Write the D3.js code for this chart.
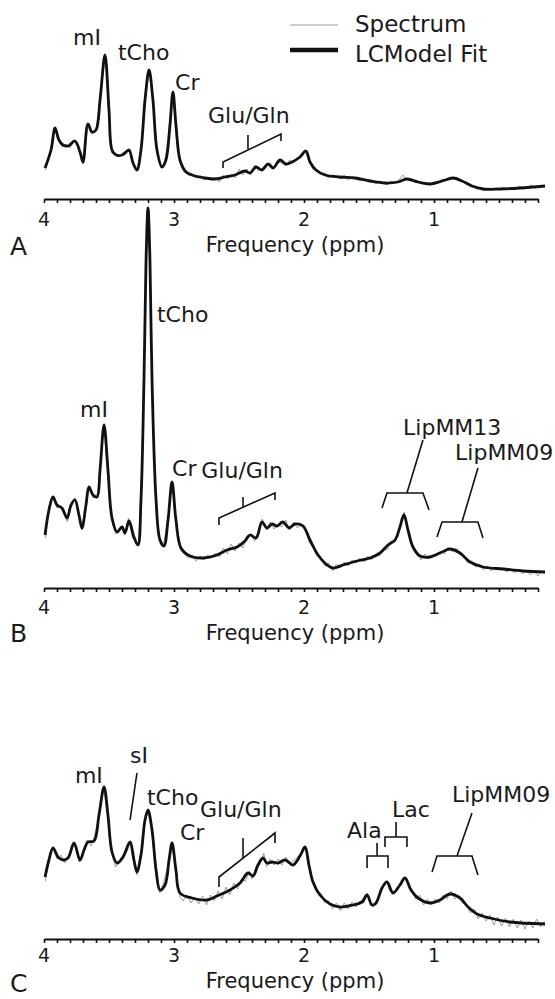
<!DOCTYPE html>
<html><head><meta charset="utf-8">
<script src="https://cdn.jsdelivr.net/npm/d3@7"></script>
<style>
body{margin:0;background:#fff}
svg{display:block}
text{font-family:"DejaVu Sans",sans-serif;fill:#1a1a1a}
</style>
</head><body>
<svg id="chart" width="555" height="999"></svg>
<script>
// ---------- DATA (ppm, intensity a.u.) ----------
const panelLetters = ["A", "B", "C"];
const tickLabels = [4, 3, 2, 1];
const tickValues = [4.0,3.9,3.8,3.7,3.6,3.5,3.4,3.3,3.2,3.1,3.0,2.9,2.8,2.7,2.6,2.5,2.4,2.3,2.2,2.1,2.0,1.9,1.8,1.7,1.6,1.5,1.4,1.3,1.2,1.1,1.0,0.9,0.8,0.7,0.6,0.5,0.4,0.3,0.2];
const axisTitle = "Frequency (ppm)";
const legendLabels = ["Spectrum", "LCModel Fit"];

const fitA = [[3.992,31],[3.946,49],[3.915,71],[3.885,59],[3.854,54],[3.815,53],[3.762,58],[3.723,47],[3.700,37],[3.662,75],[3.631,67],[3.600,69],[3.569,99],[3.531,144],[3.500,89],[3.477,49],[3.446,44],[3.400,44],[3.369,47],[3.346,49],[3.315,36],[3.285,29],[3.254,49],[3.223,99],[3.192,129],[3.162,99],[3.131,49],[3.092,32],[3.062,39],[3.031,74],[3.008,107],[2.985,74],[2.954,39],[2.908,27],[2.838,23],[2.762,21],[2.685,20],[2.608,22],[2.531,24],[2.454,28],[2.415,26],[2.369,32],[2.323,29],[2.277,35],[2.238,31],[2.185,39],[2.138,35],[2.092,37],[2.031,42],[1.985,48],[1.954,37],[1.908,29],[1.838,24],[1.723,22],[1.608,21],[1.492,18],[1.377,16],[1.277,17],[1.208,20],[1.123,17],[1.031,15],[0.938,18],[0.854,21],[0.785,18],[0.708,13],[0.623,10],[0.492,10],[0.338,11],[0.146,13]];
const specA = [[3.99,29],[3.96,42],[3.93,63],[3.915,70],[3.89,60],[3.86,52],[3.83,55],[3.80,51],[3.77,58],[3.74,52],[3.72,44],[3.70,35],[3.68,55],[3.66,76],[3.63,65],[3.60,70],[3.57,97],[3.53,143],[3.50,90],[3.48,46],[3.45,46],[3.42,42],[3.39,46],[3.36,47],[3.34,50],[3.31,34],[3.285,30],[3.25,50],[3.22,100],[3.19,128],[3.16,98],[3.13,48],[3.10,31],[3.07,38],[3.04,66],[3.01,106],[2.985,73],[2.95,37],[2.92,29],[2.89,24],[2.86,25],[2.83,21],[2.80,24],[2.77,19],[2.74,22],[2.71,18],[2.68,22],[2.65,17],[2.62,24],[2.59,20],[2.56,25],[2.53,21],[2.50,30],[2.47,24],[2.44,30],[2.41,24],[2.38,34],[2.35,28],[2.32,31],[2.29,33],[2.26,36],[2.23,30],[2.20,37],[2.17,36],[2.14,33],[2.11,39],[2.08,36],[2.05,41],[2.02,44],[1.99,47],[1.96,38],[1.93,30],[1.90,28],[1.87,25],[1.84,26],[1.81,21],[1.78,24],[1.75,22],[1.72,20],[1.69,24],[1.66,19],[1.63,22],[1.60,20],[1.57,18],[1.54,21],[1.51,17],[1.48,19],[1.45,15],[1.42,18],[1.39,16],[1.36,14],[1.33,18],[1.30,16],[1.27,19],[1.24,24],[1.21,19],[1.18,21],[1.15,17],[1.12,18],[1.09,15],[1.06,17],[1.03,14],[1.00,17],[0.97,16],[0.94,20],[0.91,18],[0.88,22],[0.85,20],[0.82,22],[0.79,18],[0.76,17],[0.73,14],[0.70,13],[0.67,10],[0.64,12],[0.61,9],[0.58,11],[0.55,9],[0.52,11],[0.49,10],[0.46,12],[0.43,9],[0.40,11],[0.37,10],[0.34,13],[0.31,10],[0.28,12],[0.25,14],[0.22,11],[0.19,13],[0.16,12]];

const fitB = [[3.992,53],[3.962,78],[3.931,91],[3.900,83],[3.862,80],[3.823,70],[3.792,83],[3.762,88],[3.731,73],[3.708,60],[3.677,83],[3.654,101],[3.623,93],[3.592,91],[3.569,118],[3.538,163],[3.508,118],[3.477,70],[3.438,56],[3.400,61],[3.377,55],[3.346,67],[3.308,51],[3.277,43],[3.254,88],[3.231,208],[3.215,328],[3.200,380],[3.185,328],[3.169,208],[3.138,88],[3.108,48],[3.077,42],[3.046,68],[3.015,106],[2.985,68],[2.946,40],[2.877,32],[2.777,30],[2.669,33],[2.592,38],[2.515,41],[2.454,47],[2.415,53],[2.369,50],[2.323,66],[2.285,60],[2.246,64],[2.208,62],[2.162,66],[2.115,60],[2.069,64],[2.008,62],[1.954,48],[1.892,33],[1.831,24],[1.777,20],[1.700,23],[1.592,27],[1.492,30],[1.415,35],[1.354,43],[1.300,48],[1.262,61],[1.231,73],[1.200,58],[1.162,41],[1.108,32],[1.031,31],[0.954,35],[0.877,39],[0.800,35],[0.723,26],[0.623,21],[0.469,19],[0.315,17],[0.146,16]];
const specB = [[3.99,50],[3.96,80],[3.93,92],[3.90,80],[3.87,82],[3.84,74],[3.82,66],[3.79,84],[3.76,90],[3.73,70],[3.71,58],[3.68,80],[3.655,100],[3.62,90],[3.59,94],[3.57,116],[3.54,162],[3.51,116],[3.48,68],[3.45,54],[3.42,60],[3.40,62],[3.38,53],[3.35,70],[3.32,50],[3.29,46],[3.275,42],[3.255,90],[3.23,210],[3.215,325],[3.2,378],[3.185,325],[3.17,205],[3.14,90],[3.11,46],[3.08,44],[3.05,66],[3.015,104],[2.985,66],[2.95,38],[2.92,34],[2.89,30],[2.86,33],[2.83,27],[2.80,32],[2.77,28],[2.74,33],[2.71,30],[2.68,35],[2.65,31],[2.62,40],[2.59,34],[2.56,44],[2.53,37],[2.50,45],[2.47,40],[2.44,52],[2.41,54],[2.38,47],[2.35,56],[2.32,69],[2.29,58],[2.26,66],[2.23,59],[2.20,64],[2.17,61],[2.14,68],[2.11,58],[2.08,66],[2.05,60],[2.02,64],[1.99,58],[1.96,46],[1.93,40],[1.90,32],[1.87,30],[1.84,22],[1.81,25],[1.78,17],[1.75,24],[1.72,20],[1.69,26],[1.66,22],[1.63,28],[1.60,25],[1.57,30],[1.54,26],[1.51,32],[1.48,28],[1.45,33],[1.42,32],[1.39,40],[1.36,38],[1.33,47],[1.30,46],[1.27,58],[1.25,70],[1.23,76],[1.21,62],[1.19,55],[1.16,42],[1.13,36],[1.10,28],[1.07,34],[1.04,29],[1.01,33],[0.98,32],[0.95,37],[0.92,34],[0.89,41],[0.86,36],[0.83,40],[0.80,33],[0.77,32],[0.74,25],[0.71,27],[0.68,21],[0.65,24],[0.62,18],[0.59,22],[0.56,17],[0.53,21],[0.50,18],[0.47,20],[0.44,16],[0.41,19],[0.38,15],[0.35,19],[0.32,14],[0.29,18],[0.26,13],[0.23,17],[0.20,12],[0.17,17],[0.15,15]];

const fitC = [[3.992,62],[3.962,79],[3.931,91],[3.892,82],[3.854,79],[3.815,81],[3.769,96],[3.723,79],[3.692,89],[3.662,97],[3.615,98],[3.577,124],[3.538,152],[3.508,124],[3.477,87],[3.438,76],[3.392,82],[3.338,97],[3.308,79],[3.285,67],[3.254,84],[3.223,119],[3.200,129],[3.169,109],[3.138,69],[3.108,49],[3.069,54],[3.038,79],[3.015,96],[2.985,69],[2.954,46],[2.862,41],[2.746,39],[2.669,43],[2.569,49],[2.492,56],[2.431,66],[2.392,63],[2.354,74],[2.315,81],[2.285,76],[2.246,77],[2.200,76],[2.146,79],[2.085,74],[2.031,83],[1.992,92],[1.962,74],[1.931,57],[1.877,44],[1.800,35],[1.723,32],[1.623,34],[1.554,37],[1.515,44],[1.477,34],[1.446,36],[1.400,51],[1.362,57],[1.315,46],[1.262,54],[1.223,61],[1.177,49],[1.123,41],[1.031,36],[0.954,39],[0.877,45],[0.800,41],[0.738,32],[0.669,25],[0.569,21],[0.415,17],[0.146,15]];
const specC = [[3.99,58],[3.96,80],[3.93,92],[3.90,80],[3.87,84],[3.84,76],[3.81,84],[3.78,92],[3.76,94],[3.73,77],[3.70,86],[3.67,99],[3.64,93],[3.615,101],[3.58,122],[3.54,150],[3.51,122],[3.48,86],[3.45,72],[3.42,78],[3.39,84],[3.36,88],[3.34,96],[3.31,76],[3.285,64],[3.255,86],[3.225,117],[3.20,127],[3.17,108],[3.14,66],[3.11,46],[3.08,56],[3.04,77],[3.015,94],[2.985,66],[2.955,42],[2.93,38],[2.90,44],[2.87,36],[2.84,42],[2.81,35],[2.78,43],[2.75,34],[2.72,44],[2.69,38],[2.66,48],[2.63,40],[2.60,52],[2.57,44],[2.54,56],[2.51,50],[2.48,60],[2.45,58],[2.42,68],[2.40,60],[2.37,72],[2.34,74],[2.31,86],[2.29,72],[2.26,80],[2.23,74],[2.20,80],[2.17,74],[2.14,82],[2.11,76],[2.08,78],[2.05,82],[2.02,86],[1.99,90],[1.96,72],[1.93,58],[1.90,46],[1.87,46],[1.84,36],[1.81,38],[1.78,30],[1.75,36],[1.72,28],[1.69,36],[1.66,30],[1.63,37],[1.60,32],[1.57,38],[1.54,36],[1.515,46],[1.49,38],[1.47,32],[1.445,38],[1.42,46],[1.39,54],[1.365,58],[1.34,48],[1.315,46],[1.29,50],[1.26,56],[1.225,62],[1.20,54],[1.17,48],[1.14,40],[1.11,44],[1.08,34],[1.05,40],[1.02,34],[0.99,40],[0.96,36],[0.93,44],[0.90,40],[0.87,48],[0.84,40],[0.81,44],[0.78,36],[0.75,34],[0.72,26],[0.69,30],[0.66,20],[0.63,26],[0.60,18],[0.57,24],[0.54,14],[0.51,22],[0.48,13],[0.45,21],[0.42,12],[0.39,20],[0.36,11],[0.33,19],[0.30,10],[0.27,18],[0.24,11],[0.21,20],[0.18,12],[0.15,18]];

// peak labels: [text, ppm (left edge), intensity (baseline)]
const labelsA = [["mI",3.777,154],["tCho",3.431,139],["Cr",2.992,109],["Glu/Gln",2.738,76]];
const labelsB = [["mI",3.723,171],["tCho",3.131,266],["Cr",3.015,112],["Glu/Gln",2.790,110],["LipMM13",1.238,153],["LipMM09",0.838,128]];
const labelsC = [["mI",3.762,156],["sI",3.338,176],["tCho",3.208,134],["Cr",2.954,99],["Glu/Gln",2.800,122],["Ala",1.669,101],["Lac",1.323,122],["LipMM09",0.862,137]];

// brackets / leader lines: polylines of [ppm, intensity]
const bracketsA = [
  [[2.623,31],[2.623,37],[2.177,65],[2.177,58]],
  [[2.431,50],[2.431,64]]
];
const bracketsB = [
  [[2.654,63],[2.654,70],[2.223,95],[2.223,88]],
  [[2.469,81],[2.469,91]],
  [[1.400,80],[1.362,95],[1.085,95],[1.038,78]],
  [[1.208,95],[1.085,148]],
  [[0.977,51],[0.938,66],[0.662,66],[0.623,50]],
  [[0.785,66],[0.662,120]]
];
const bracketsC = [
  [[3.285,166],[3.338,119]],
  [[2.654,52],[2.654,62],[2.223,106],[2.223,96]],
  [[2.469,81],[2.469,101]],
  [[1.515,71],[1.515,83],[1.354,83],[1.354,71]],
  [[1.438,83],[1.438,96]],
  [[1.377,92],[1.377,102],[1.208,102],[1.208,92]],
  [[1.292,102],[1.292,117]],
  [[1.015,67],[0.977,83],[0.708,83],[0.662,64]],
  [[0.823,83],[0.708,126]]
];

// ---------- LAYOUT ----------
const svg = d3.select("#chart");
const x = d3.scaleLinear().domain([4, 0.2]).range([44, 538]);

const panels = [
  {letter: panelLetters[0], axisY: 199, tickBase: 226, titleBase: 252, letterBase: 255, fit: fitA, spec: specA, labels: labelsA, brackets: bracketsA},
  {letter: panelLetters[1], axisY: 588, tickBase: 614, titleBase: 640, letterBase: 642, fit: fitB, spec: specB, labels: labelsB, brackets: bracketsB},
  {letter: panelLetters[2], axisY: 939, tickBase: 962, titleBase: 988, letterBase: 992, fit: fitC, spec: specC, labels: labelsC, brackets: bracketsC}
];

panels.forEach(p => {
  const y = d3.scaleLinear().domain([0, 400]).range([p.axisY, p.axisY - 400]);
  const g = svg.append("g");

  // axis
  const axis = d3.axisBottom(x).tickValues(tickValues).tickFormat("").tickSizeInner(4).tickSizeOuter(0);
  const ag = g.append("g").attr("transform", `translate(0,${p.axisY})`).call(axis);
  ag.select(".domain").attr("stroke", "#111").attr("stroke-width", 2);
  ag.selectAll(".tick line").attr("stroke", "#111").attr("stroke-width", 1.6);

  g.selectAll("text.tl").data(tickLabels).join("text")
    .attr("class", "tl")
    .attr("x", d => x(d)).attr("y", p.tickBase)
    .attr("text-anchor", "middle").attr("font-size", 19)
    .text(d => d);

  g.append("text").attr("x", 295).attr("y", p.titleBase)
    .attr("text-anchor", "middle").attr("font-size", 21).text(axisTitle);

  g.append("text").attr("x", 10).attr("y", p.letterBase)
    .attr("font-size", 25).text(p.letter);

  // spectrum & fit
  g.append("path").datum(p.spec)
    .attr("d", d3.line().x(d => x(d[0])).y(d => y(d[1])).curve(d3.curveLinear))
    .attr("fill", "none").attr("stroke", "#9c9c9c").attr("stroke-width", 1);
  g.append("path").datum(p.fit)
    .attr("d", d3.line().x(d => x(d[0])).y(d => y(d[1])).curve(d3.curveCatmullRom.alpha(0.5)))
    .attr("fill", "none").attr("stroke", "#111").attr("stroke-width", 2.8)
    .attr("stroke-linejoin", "round");

  // brackets
  g.selectAll("path.br").data(p.brackets).join("path")
    .attr("class", "br")
    .attr("d", d3.line().x(d => x(d[0])).y(d => y(d[1])))
    .attr("fill", "none").attr("stroke", "#111").attr("stroke-width", 1.6);

  // labels
  g.selectAll("text.pk").data(p.labels).join("text")
    .attr("class", "pk")
    .attr("x", d => x(d[1])).attr("y", d => y(d[2]))
    .attr("font-size", 22).text(d => d[0]);
});

// legend
const legend = svg.append("g");
const legendStyles = [{stroke: "#9c9c9c", w: 1.2, y: 25, base: 32}, {stroke: "#111", w: 4.5, y: 50, base: 62}];
legendLabels.forEach((lab, i) => {
  const s = legendStyles[i];
  legend.append("line").attr("x1", 290).attr("x2", 338).attr("y1", s.y).attr("y2", s.y)
    .attr("stroke", s.stroke).attr("stroke-width", s.w);
  legend.append("text").attr("x", 355).attr("y", s.base).attr("font-size", 23).text(lab);
});
</script>
</body></html>
